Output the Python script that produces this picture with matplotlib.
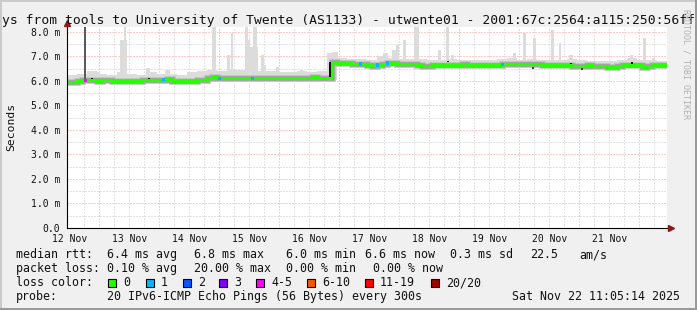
import numpy as np
import matplotlib.pyplot as plt
from matplotlib.patches import Rectangle

plt.rcParams['font.family'] = ['DejaVu Sans Mono']

W, H = 697, 310

# time axis: hours since the left edge, 10 days, graph ends Sat Nov 22 11:05
start_hour = 11 + 5 / 60
span_hours = 240

# median rtt in ms, one value every 2 hours
median_ms = [5.97, 5.97, 5.98, 6.02, 6.04, 6.02, 6.01, 6.03, 6.03, 6.01,
             6.00, 6.01, 6.00, 6.01, 6.01, 6.02, 6.05, 6.05, 6.03, 6.04,
             6.06, 6.01, 6.00, 6.00, 6.01, 6.01, 6.03, 6.05, 6.10, 6.15,
             6.11, 6.10, 6.11, 6.10, 6.11, 6.12, 6.10, 6.11, 6.12, 6.11,
             6.13, 6.11, 6.10, 6.11, 6.12, 6.11, 6.10, 6.11, 6.12, 6.14,
             6.12, 6.11, 6.11, 6.76, 6.75, 6.73, 6.72, 6.71, 6.70, 6.68,
             6.63, 6.62, 6.65, 6.68, 6.73, 6.72, 6.68, 6.69, 6.68, 6.69,
             6.65, 6.62, 6.62, 6.63, 6.66, 6.66, 6.65, 6.66, 6.67, 6.68,
             6.66, 6.65, 6.66, 6.64, 6.66, 6.67, 6.66, 6.68, 6.70, 6.71,
             6.70, 6.69, 6.70, 6.69, 6.68, 6.66, 6.65, 6.66, 6.67, 6.66,
             6.63, 6.62, 6.61, 6.62, 6.63, 6.61, 6.60, 6.59, 6.58, 6.58,
             6.60, 6.64, 6.65, 6.67, 6.64, 6.58, 6.60, 6.64, 6.65, 6.65]

# smoke envelope in ms, one value every 4 hours
smoke_hi_ms = [6.25, 6.30, 6.40, 6.30, 6.25, 6.35, 6.30, 6.25, 6.35, 6.30,
               6.30, 6.25, 6.35, 6.40, 6.45, 6.40, 6.45, 6.45, 6.50, 6.40,
               6.40, 6.35, 6.35, 6.40, 6.35, 6.40, 7.15, 6.95, 6.90, 6.90,
               6.85, 7.00, 6.95, 6.90, 6.90, 6.90, 6.85, 6.85, 6.90, 6.85,
               6.85, 6.85, 6.85, 6.90, 6.95, 6.85, 6.90, 6.85, 6.85, 6.85,
               6.90, 6.85, 6.80, 6.80, 6.80, 6.85, 6.95, 6.85, 6.85, 6.80]
smoke_lo_ms = [5.92, 5.92, 5.95, 5.94, 5.93, 5.93, 5.94, 5.94, 5.95, 5.95,
               5.94, 5.93, 5.94, 5.96, 6.02, 6.03, 6.02, 6.03, 6.03, 6.02,
               6.03, 6.02, 6.03, 6.03, 6.02, 6.03, 6.03, 6.62, 6.63, 6.62,
               6.55, 6.55, 6.58, 6.60, 6.60, 6.58, 6.54, 6.55, 6.57, 6.58,
               6.58, 6.58, 6.58, 6.57, 6.58, 6.60, 6.60, 6.58, 6.57, 6.56,
               6.56, 6.55, 6.53, 6.54, 6.53, 6.52, 6.55, 6.57, 6.55, 6.54]

# single slow pings (light smoke spikes)
spike_hours = [22.6, 23.2, 12.2, 32.4, 40.2, 58.8, 64.4, 66.0, 71.6, 74.0,
               72.8, 75.2, 78.0, 79.2, 84.0, 93.6, 107.2, 127.4, 131.0, 132.2,
               135.0, 139.6, 149.0, 152.0, 154.2, 179.0, 183.0, 187.0, 194.0, 197.2,
               201.6, 225.8, 231.0, 234.6]
spike_widths = [2.8, 0.8, 2.0, 1.6, 2.0, 1.6, 1.2, 0.8, 1.2, 4.8,
                0.8, 1.6, 1.2, 0.8, 1.2, 1.2, 2.4, 2.0, 2.0, 0.8,
                1.2, 2.0, 1.2, 1.2, 1.2, 1.2, 1.2, 1.2, 1.2, 0.8,
                1.6, 1.2, 1.2, 1.2]
spike_tops = [7.65, 8.2, 6.38, 6.53, 6.45, 8.2, 7.06, 7.97, 8.2, 7.40,
              7.67, 8.2, 7.05, 6.65, 6.58, 6.45, 7.20, 7.14, 7.27, 7.45,
              7.65, 8.2, 7.25, 8.2, 7.06, 7.14, 7.97, 7.75, 8.08, 7.53,
              7.06, 7.06, 7.75, 6.93]

# dense smoke marks
dark_hours = [7.2, 10.0, 32.8, 58.4, 105.2, 152.4, 177.6, 186.4, 201.6, 206.0, 226.0]
dark_lo = [6.00, 6.04, 6.08, 6.13, 6.11, 6.76, 6.70, 6.50, 6.70, 6.45, 6.70]
dark_hi = [8.20, 6.10, 6.13, 6.18, 6.78, 6.82, 6.75, 6.57, 6.75, 6.56, 6.76]
dark_shades = ['#5a5a5a', '#111111', '#111111', '#111111', '#111111', '#222222',
               '#111111', '#444444', '#111111', '#444444', '#111111']

# samples with packet loss
loss_hours = [7.2, 38.4, 60.8, 74.0, 117.2, 124.2, 128.0, 174.0]
loss_bins = [4, 1, 1, 1, 1, 1, 1, 1]

loss_labels = ['0', '1', '2', '3', '4-5', '6-10', '11-19', '20/20']
loss_colors = ['#26ff00', '#00b8ff', '#0059ff', '#7e00ff', '#ff00ff', '#ff5500', '#ff0000', '#a00000']

day_labels = ['12 Nov', '13 Nov', '14 Nov', '15 Nov', '16 Nov',
              '17 Nov', '18 Nov', '19 Nov', '20 Nov', '21 Nov']
ytick_vals = [0, 1, 2, 3, 4, 5, 6, 7, 8]
ytick_labels = ['0.0', '1.0 m', '2.0 m', '3.0 m', '4.0 m', '5.0 m', '6.0 m', '7.0 m', '8.0 m']

title = 'ys from tools to University of Twente (AS1133) - utwente01 - 2001:67c:2564:a115:250:56ff'
rtt_stats = ['6.4 ms avg', '6.8 ms max', '6.0 ms min', '6.6 ms now', '0.3 ms sd', '22.5', 'am/s']
loss_stats = ['0.10 % avg', '20.00 % max', '0.00 % min', '0.00 % now']
probe_text = '20 IPv6-ICMP Echo Pings (56 Bytes) every 300s'
stamp_text = 'Sat Nov 22 11:05:14 2025'


def fx(x):
    return x / W


def fy(y):
    return 1 - y / H


fig = plt.figure(figsize=(W / 100, H / 100), dpi=100, facecolor='#f0f0f0')
ax = fig.add_axes([fx(67), fy(228), 600 / W, 201 / H])
ax.set_facecolor('white')
ax.set_xlim(0, span_hours)
ax.set_ylim(0, 8.2)

# grid
first_midnight = 24 - start_hour
for h in np.arange(first_midnight - 6, span_hours, 6):
    major = abs((h - first_midnight) % 24) < 1e-6
    ax.axvline(h, color='#ff9a9a' if major else '#c8c8c8', lw=0.72,
               ls=(0, (1, 2)), zorder=1)
for v in np.arange(0.5, 8.2, 0.5):
    major = abs(v - round(v)) < 1e-6
    ax.axhline(v, color='#ff9a9a' if major else '#c8c8c8', lw=0.72,
               ls=(0, (1, 2)), zorder=1)

# smoke
t2 = np.arange(0, span_hours + 1, 2)
t4 = np.arange(0, span_hours + 1, 4)
med = np.array(median_ms + median_ms[-1:])
hi = np.array(smoke_hi_ms + smoke_hi_ms[-1:])
lo = np.array(smoke_lo_ms + smoke_lo_ms[-1:])
ax.fill_between(t4, lo, hi, step='post', color='#dcdcdc', lw=0, zorder=2)

base = np.interp(spike_hours, t2, med)
ax.bar(spike_hours, np.array(spike_tops) - base, bottom=base, width=spike_widths,
       color='#dcdcdc', lw=0, zorder=2)

ax.plot(t2, med, drawstyle='steps-post', color='#c2c2c2', lw=4.8,
        solid_joinstyle='miter', zorder=3)
ax.plot(t2, med, drawstyle='steps-post', color='#a2a2a2', lw=3.5,
        solid_joinstyle='miter', zorder=3)

ax.bar(dark_hours, np.array(dark_hi) - np.array(dark_lo), bottom=dark_lo, width=0.8,
       color=dark_shades, lw=0, zorder=4)

# median line
ax.plot(t2, med, drawstyle='steps-post', color=loss_colors[0], lw=2.16,
        solid_joinstyle='miter', zorder=5)
lm = np.interp(loss_hours, t2, med)
ax.bar(loss_hours, 0.13, bottom=lm - 0.065, width=1.2,
       color=[loss_colors[b] for b in loss_bins], lw=0, zorder=6)

# axes
for s in ['top', 'right']:
    ax.spines[s].set_visible(False)
for s in ['left', 'bottom']:
    ax.spines[s].set_color('black')
    ax.spines[s].set_linewidth(0.8)
    ax.spines[s].set_zorder(7)
ax.plot([0, 0], [1, 1 + 4 / 201], transform=ax.transAxes, color='black', lw=0.8, clip_on=False)
ax.plot([1, 1 + 3 / 600], [0, 0], transform=ax.transAxes, color='black', lw=0.8, clip_on=False)
ax.plot([0], [1 + 4 / 201], transform=ax.transAxes, marker='^', ms=4.5, color='#8b1a1a',
        clip_on=False, zorder=8)
ax.plot([1 + 4 / 600], [0], transform=ax.transAxes, marker='>', ms=4.5, color='#8b1a1a',
        clip_on=False, zorder=8)

label_hours = np.arange(len(day_labels)) * 24 + (12 - start_hour)
ax.set_xticks(label_hours, day_labels)
ax.set_yticks(ytick_vals, ytick_labels)
ax.tick_params(axis='x', length=0, pad=4, labelsize=7, colors='#111111')
ax.tick_params(axis='y', length=0, pad=5, labelsize=7, colors='#111111')

# title and side texts
fig.text(fx(1.5), fy(24), title, ha='left', va='baseline', fontsize=9.4, color='#111111')
fig.text(fx(11), fy(127), 'Seconds', rotation=90, ha='center', va='center',
         fontsize=8.2, color='#111111')
fig.text(fx(686), fy(64), 'RRDTOOL / TOBI OETIKER', rotation=270, ha='center', va='center',
         fontsize=6, color='#b0b0b0')

# legend
lg = dict(ha='left', va='baseline', fontsize=8.4, color='#111111')
fig.text(fx(16), fy(258), 'median rtt:', **lg)
for x, s in zip([107, 194, 286, 365, 450, 530, 579], rtt_stats):
    fig.text(fx(x), fy(258), s, **lg)
fig.text(fx(16), fy(272), 'packet loss:', **lg)
for x, s in zip([107, 194, 286, 373], loss_stats):
    fig.text(fx(x), fy(272), s, **lg)
fig.text(fx(16), fy(286), 'loss color:', **lg)
for x, lab, col in zip([108, 146, 183, 219, 256, 307, 365, 431], loss_labels, loss_colors):
    fig.add_artist(Rectangle((fx(x), fy(286.5)), 8 / W, 8 / H, transform=fig.transFigure,
                             facecolor=col, edgecolor='black', lw=0.8))
    fig.text(fx(x + 15), fy(286), lab, **lg)
fig.text(fx(16), fy(300), 'probe:', **lg)
fig.text(fx(107), fy(300), probe_text, **lg)
fig.text(fx(680), fy(300), stamp_text, ha='right', va='baseline', fontsize=8.4, color='#111111')

# frame
fig.add_artist(Rectangle((0, fy(2)), 1, 2 / H, transform=fig.transFigure, color='#cbcbcb', lw=0))
fig.add_artist(Rectangle((0, 0), 2 / W, 1, transform=fig.transFigure, color='#cbcbcb', lw=0))
fig.add_artist(Rectangle((0, 0), 1, 2 / H, transform=fig.transFigure, color='#999999', lw=0))
fig.add_artist(Rectangle((fx(695), 0), 2 / W, 1, transform=fig.transFigure, color='#999999', lw=0))

fig.savefig('out.png', dpi=100, facecolor=fig.get_facecolor())
